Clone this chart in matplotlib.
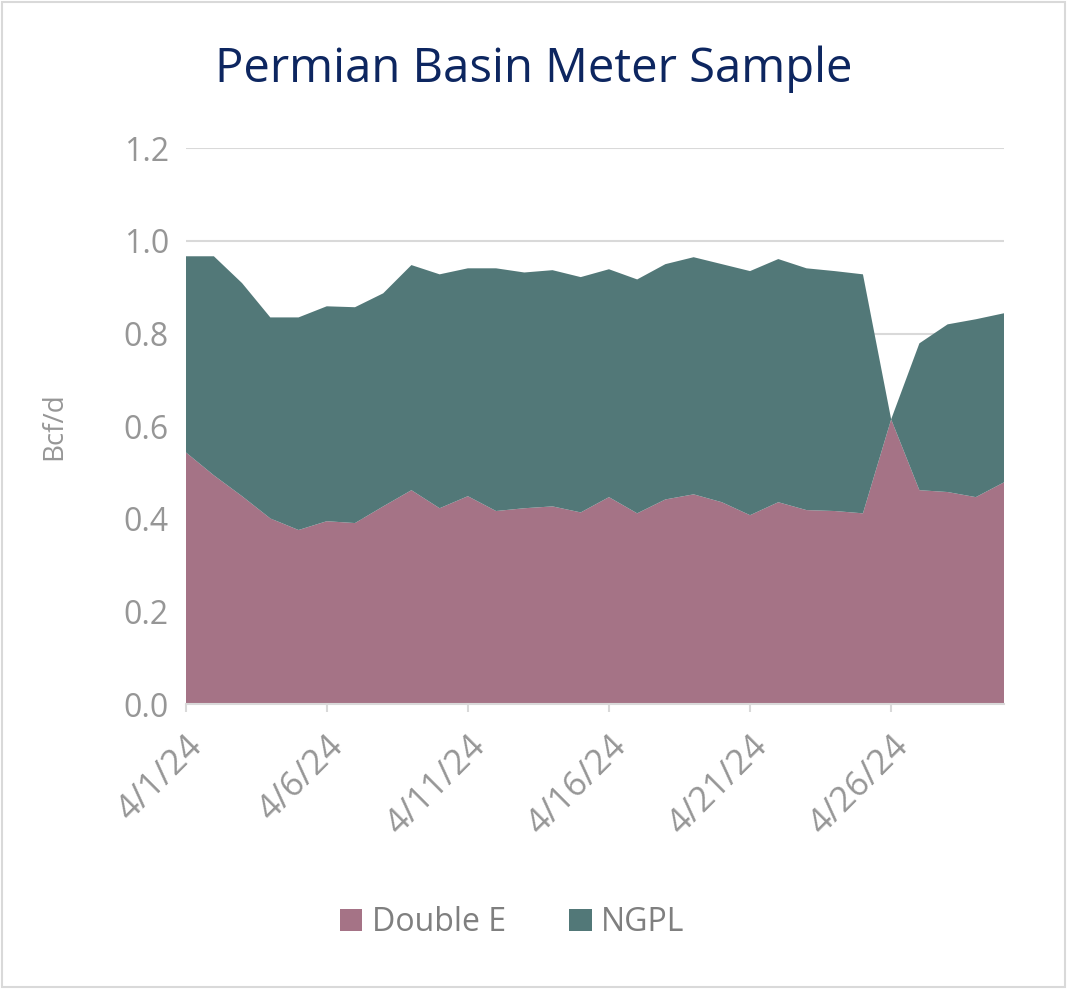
import matplotlib
matplotlib.use("Agg")
import matplotlib.pyplot as plt
from matplotlib.patches import Rectangle
import numpy as np

days = list(range(1, 31))
double_e = [0.544,0.494,0.449,0.401,0.376,0.395,0.391,0.427,0.462,0.423,0.449,0.417,0.423,0.427,0.414,
            0.447,0.412,0.442,0.453,0.436,0.408,0.436,0.419,0.417,0.412,0.615,0.462,0.458,0.447,0.479]
total = [0.967,0.967,0.909,0.835,0.835,0.859,0.857,0.887,0.948,0.928,0.941,0.941,0.932,0.937,0.922,
         0.939,0.917,0.950,0.965,0.950,0.935,0.961,0.941,0.935,0.928,0.615,0.779,0.820,0.831,0.844]
ngpl = [t - d for t, d in zip(total, double_e)]
tick_days = [1, 6, 11, 16, 21, 26]
tick_labels = ["4/1/24", "4/6/24", "4/11/24", "4/16/24", "4/21/24", "4/26/24"]

plt.rcParams["font.family"] = "Open Sans"
fig = plt.figure(figsize=(10.67, 9.89), dpi=100)
fig.patches.append(Rectangle((0.002, 0.002), 0.996, 0.996, transform=fig.transFigure,
                             fill=False, edgecolor="#d9d9d9", linewidth=1.5))
ax = fig.add_axes([0.174, 0.288, 0.767, 0.562])
ax.stackplot(days, double_e, ngpl, colors=["#a57386", "#527878"], labels=["Double E", "NGPL"])
ax.set_xlim(1, 30)
ax.set_ylim(0, 1.2)
ax.set_yticks(np.arange(0, 1.21, 0.2))
ax.set_yticklabels([f"{v:.1f}" for v in np.arange(0, 1.21, 0.2)])
ax.grid(axis="y", color="#d9d9d9", linewidth=1.5)
ax.set_axisbelow(True)
ax.set_xticks(tick_days)
ax.set_xticklabels(tick_labels, rotation=45, ha="right", rotation_mode="anchor")
ax.tick_params(axis="both", labelsize=23, colors="#969696", length=0, pad=12)
ax.tick_params(axis="x", labelsize=25, length=6, color="#d9d9d9", width=1.5)
for s in ["top", "right", "left"]:
    ax.spines[s].set_visible(False)
ax.spines["bottom"].set_color("#d9d9d9")
ax.spines["bottom"].set_linewidth(1.5)
ax.set_ylabel("Bcf/d", fontsize=20, color="#969696", labelpad=40)
fig.text(0.5, 0.93, "Permian Basin Meter Sample", ha="center", va="center",
         fontsize=34, color="#0d2660")
fig.legend(loc="center", bbox_to_anchor=(0.48, 0.067), ncol=2, frameon=False,
           fontsize=23, labelcolor="#7f7f7f", handlelength=0.7, handleheight=0.7,
           columnspacing=2.0, handletextpad=0.3)
fig.savefig("out.png", dpi=100)
